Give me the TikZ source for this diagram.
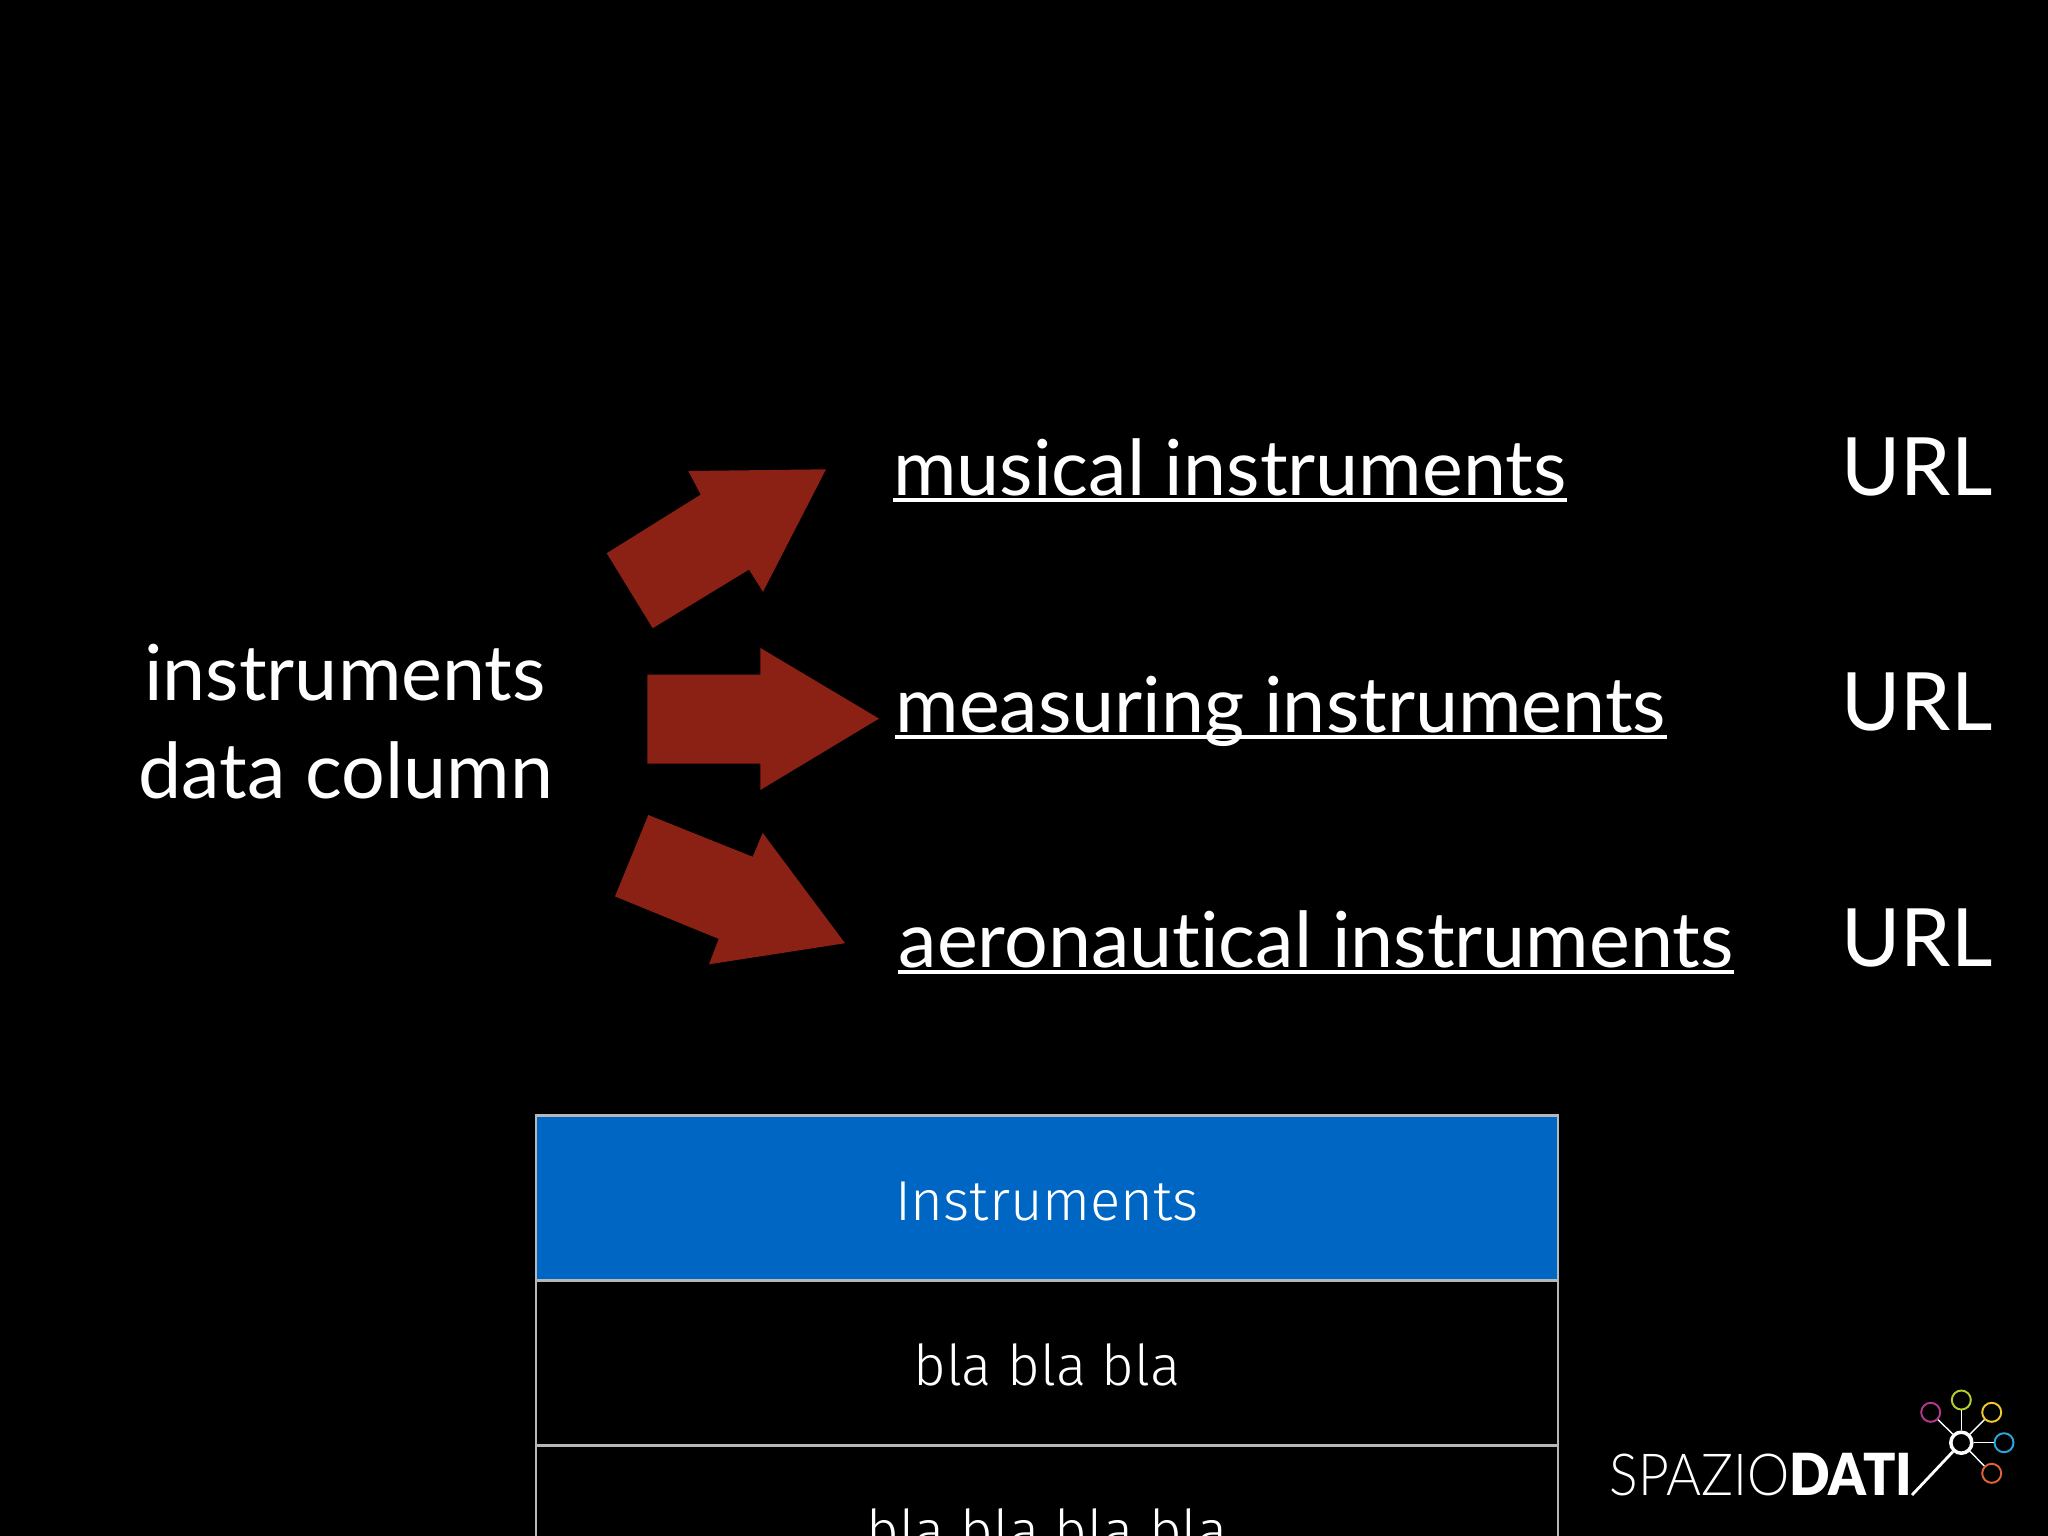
\documentclass[tikz,border=0pt]{standalone}
\usepackage{fontspec}
\usepackage{xcolor}
\usetikzlibrary{calc}
\setmainfont{Lato}[Ligatures=NoCommon]
\newfontfamily\tablefont{Fira Sans Light}
\newfontfamily\logofont{Lato Light}[FakeStretch=0.92]
\newfontfamily\logoboldfont{Lato Black}[FakeStretch=0.92]
\definecolor{arrowred}{HTML}{8B2014}
\definecolor{headblue}{HTML}{0066C4}
\definecolor{rowline}{HTML}{B4B8BA}
\definecolor{logopurple}{HTML}{B03A8C}
\definecolor{logogreen}{HTML}{B5CC2E}
\definecolor{logoyellow}{HTML}{F0C92E}
\definecolor{logoblue}{HTML}{2BA6DE}
\definecolor{logoorange}{HTML}{E0623A}
\tikzset{
    biglabel/.style={white, inner sep=0, anchor=base west, font=\fontsize{21.95}{26}\selectfont},
    urllabel/.style={biglabel, font=\fontsize{22.9}{27}\selectfont},
    tablerow/.style={draw=rowline, line width=0.65pt, text=white, inner sep=0, minimum width=10.22cm, minimum height=1.65cm, text height=12.7pt, text depth=0pt, font=\tablefont\fontsize{16}{19}\selectfont},
    bubble/.style={draw, line width=0.55pt, circle, inner sep=0, minimum size=0.19cm},
    spoke/.style={draw=white, line width=0.4pt},
}

\begin{document}
\begin{tikzpicture}[x=0.01cm, y=-0.01cm]
    \useasboundingbox (0,0) rectangle (2048,1536);
    \clip (0,0) rectangle (2048,1536);
    \fill[black] (0,0) rectangle (2048,1536);
    \fill[arrowred] (606.7,553.2) -- (700.7,494.6) -- (688.3,471) -- (826,469.3) -- (763,591.8) -- (749,569.6) -- (652.7,628.2) -- cycle;
    \fill[arrowred] (647.3,674.6) -- (760.3,674.6) -- (760.3,647.9) -- (879,718.6) -- (760.3,790) -- (760.3,763.6) -- (647.3,763.6) -- cycle;
    \fill[arrowred] (648.3,815) -- (752.7,856.8) -- (762.7,832.9) -- (845,943.2) -- (709,964.3) -- (718.7,938.9) -- (615,896.4) -- cycle;
    \node[biglabel, anchor=base] (instr) at (345,700) {instruments};
    \node[biglabel, anchor=base] (datacol) at (346,798) {data column};
    \node[biglabel] (musical) at (892.5,495) {musical instruments};
    \node[biglabel] (measuring) at (895,732) {measuring instruments};
    \node[biglabel] (aero) at (898,967) {aeronautical instruments};
    \draw[white, line width=0.95pt] ($(musical.base west)+(0,5)$) -- ($(musical.base east)+(0,5)$);
    \draw[white, line width=0.95pt] ($(measuring.base west)+(0,5)$) -- ($(measuring.base east)+(0,5)$);
    \draw[white, line width=0.95pt] ($(aero.base west)+(0,5)$) -- ($(aero.base east)+(0,5)$);
    \node[urllabel] (urlone) at (1841,495) {URL};
    \node[urllabel] (urltwo) at (1841,730) {URL};
    \node[urllabel] (urlthree) at (1841,966) {URL};
    \node[tablerow, fill=headblue] (head) at (1047,1198) {Instruments};
    \node[tablerow] (rowone) at (1047,1363) {bla bla bla};
    \node[tablerow] (rowtwo) at (1047,1528) {bla bla bla bla};
    \node[white, inner sep=0, anchor=base west, font=\fontsize{16.5}{20}\selectfont] (logo) at (1609,1495) {\logofont SPAZIO\logoboldfont DATI};
    \node[draw=white, line width=1pt, circle, inner sep=0, minimum size=0.21cm] (hub) at (1961.3,1442.7) {};
    \node[bubble, logopurple] (bubpurple) at (1930.7,1412.3) {};
    \node[bubble, logogreen] (bubgreen) at (1961.3,1400) {};
    \node[bubble, logoyellow] (bubyellow) at (1991.7,1412.3) {};
    \node[bubble, logoblue] (bubblue) at (2004,1442.7) {};
    \node[bubble, logoorange] (buborange) at (1991.7,1473.3) {};
    \coordinate (tail) at (1912,1495);
    \draw[spoke] (hub) -- (bubpurple);
    \draw[spoke] (hub) -- (bubgreen);
    \draw[spoke] (hub) -- (bubyellow);
    \draw[spoke] (hub) -- (bubblue);
    \draw[spoke] (hub) -- (buborange);
    \draw[spoke, line width=0.8pt] (hub) -- (tail);
\end{tikzpicture}
\end{document}
